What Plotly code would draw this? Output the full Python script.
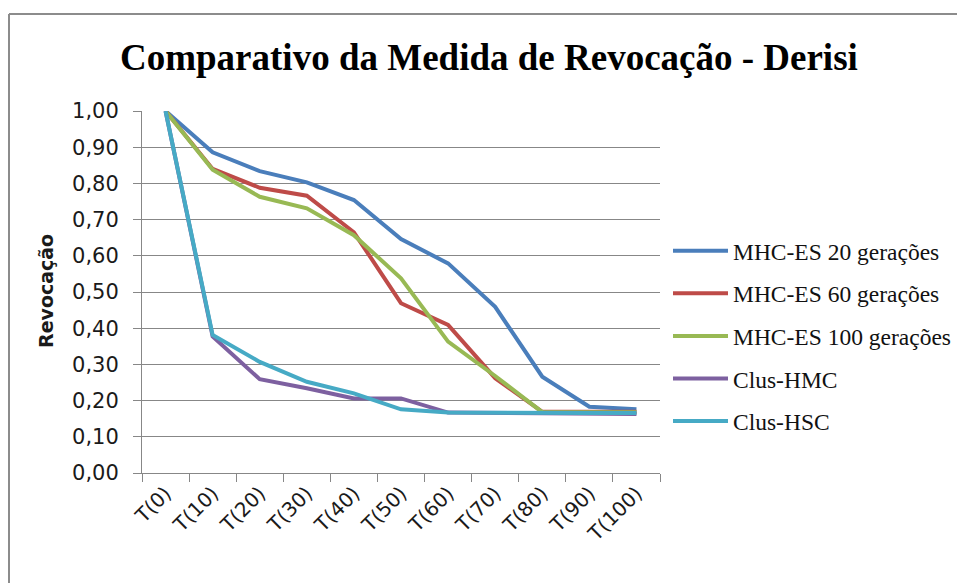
import plotly.graph_objects as go

# Categories (iterations) and recall values per method
categorias = ["T(0)", "T(10)", "T(20)", "T(30)", "T(40)", "T(50)",
              "T(60)", "T(70)", "T(80)", "T(90)", "T(100)"]

mhc_es_20 = [1.00, 0.886, 0.834, 0.803, 0.754, 0.646, 0.579, 0.459, 0.266, 0.183, 0.176]
mhc_es_60 = [1.00, 0.840, 0.788, 0.766, 0.665, 0.469, 0.409, 0.262, 0.169, 0.169, 0.169]
mhc_es_100 = [1.00, 0.838, 0.763, 0.731, 0.657, 0.538, 0.363, 0.268, 0.168, 0.168, 0.168]
clus_hmc = [1.00, 0.377, 0.259, 0.234, 0.206, 0.206, 0.167, 0.166, 0.166, 0.164, 0.163]
clus_hsc = [1.00, 0.381, 0.307, 0.252, 0.220, 0.176, 0.167, 0.166, 0.166, 0.166, 0.166]

series_nomes = ["MHC-ES 20 gerações", "MHC-ES 60 gerações", "MHC-ES 100 gerações",
                "Clus-HMC", "Clus-HSC"]
series_valores = [mhc_es_20, mhc_es_60, mhc_es_100, clus_hmc, clus_hsc]
series_cores = ["#4A7EBB", "#BE4B48", "#98B954", "#7D60A0", "#46AAC5"]

y_ticks = [0.0, 0.1, 0.2, 0.3, 0.4, 0.5, 0.6, 0.7, 0.8, 0.9, 1.0]
y_ticktext = ["0,00", "0,10", "0,20", "0,30", "0,40", "0,50",
              "0,60", "0,70", "0,80", "0,90", "1,00"]

W, H = 957, 583
L, R, T, B = 142, 297, 111, 110
PW, PH = W - L - R, H - T - B


def px_x(p):
    return (p - L) / PW


def px_y(q):
    return (H - B - q) / PH


fig = go.Figure()
for i, (nome, vals, cor) in enumerate(zip(series_nomes, series_valores, series_cores)):
    fig.add_trace(go.Scatter(
        x=categorias, y=vals, name=nome, mode="lines",
        line=dict(color=cor, width=4), legendgroup=f"g{i}",
    ))

grid = "#878787"
fig.update_layout(
    width=W, height=H,
    margin=dict(l=L, r=R, t=T, b=B, pad=0, autoexpand=False),
    paper_bgcolor="white", plot_bgcolor="white",
    font=dict(family="DejaVu Sans", color="#1a1a1a"),
    xaxis=dict(
        type="category", range=[-0.5, 10.5], tickson="boundaries",
        showline=True, linecolor=grid, linewidth=1,
        ticks="outside", ticklen=8, tickcolor=grid,
        showgrid=False, tickangle=-45,
        tickfont=dict(family="DejaVu Sans", size=20, color="#1a1a1a"),
    ),
    yaxis=dict(
        range=[0, 1], tickvals=y_ticks, ticktext=y_ticktext,
        showline=True, linecolor=grid, linewidth=1,
        ticks="outside", ticklen=8, tickcolor=grid,
        showgrid=True, gridcolor=grid, gridwidth=1, zeroline=False,
        tickfont=dict(family="DejaVu Sans", size=21, color="#1a1a1a"),
        ticklabelstandoff=10,
    ),
    legend=dict(
        x=px_x(668), y=px_y(229), xanchor="left", yanchor="top",
        traceorder="grouped", tracegroupgap=9, itemwidth=55,
        font=dict(family="Liberation Serif", size=23.5, color="#111111"),
        bgcolor="rgba(0,0,0,0)",
    ),
    showlegend=True,
)

# Chart title
fig.add_annotation(
    text="<b>Comparativo da Medida de Revocação - Derisi</b>",
    xref="paper", yref="paper", x=px_x(489), y=px_y(58),
    xanchor="center", yanchor="middle", showarrow=False,
    font=dict(family="Liberation Serif", size=37, color="#000000"),
)

# Y-axis title
fig.add_annotation(
    text="<b>Revocação</b>", textangle=-90,
    xref="paper", yref="paper", x=px_x(46), y=px_y(291),
    xanchor="center", yanchor="middle", showarrow=False,
    font=dict(family="DejaVu Sans", size=19, color="#1a1a1a"),
)

# Chart frame (top and left edges)
frame = "#8c8c8c"
fig.add_shape(type="line", xref="paper", yref="paper",
              x0=px_x(9), x1=px_x(W + 5), y0=px_y(14), y1=px_y(14),
              line=dict(color=frame, width=2))
fig.add_shape(type="line", xref="paper", yref="paper",
              x0=px_x(9), x1=px_x(9), y0=px_y(14), y1=px_y(H + 5),
              line=dict(color=frame, width=2))

fig.write_html("out.html")
